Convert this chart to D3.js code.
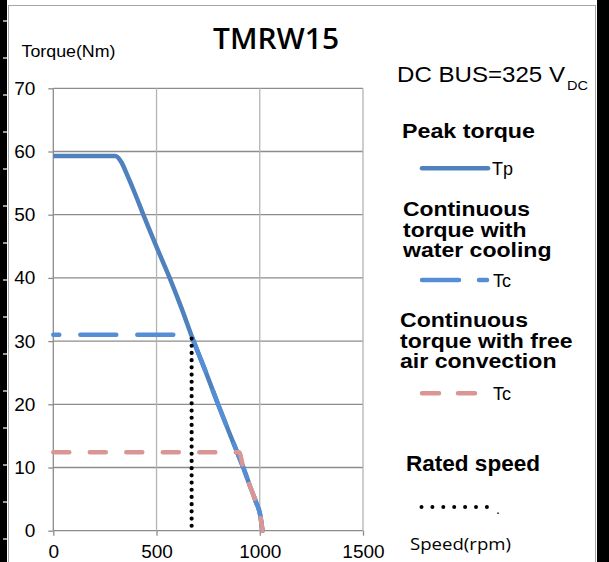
<!DOCTYPE html>
<html>
<head>
<meta charset="utf-8">
<script src="https://cdn.jsdelivr.net/npm/d3@7"></script>
<style>
  body { margin: 0; background: #fff; }
  svg { display: block; }
  .axis path { display: none; }
  .axis line { stroke: #8c8c8c; stroke-width: 1.3; }
  .axis text { font-family: "Liberation Sans", Arial, sans-serif; font-size: 19px; fill: #000; }
</style>
</head>
<body>
<svg id="chart"></svg>
<script>
// torque / speed curves
const peakSpeed  = [0, 300, 330, 355, 400, 436, 500, 565, 620, 677, 740, 798, 850, 887, 920, 951, 982, 1002, 1013];
const peakTorque = [59.3, 59.3, 58.3, 56.5, 53, 50, 44.9, 39.9, 35.3, 30.2, 25, 20, 15.7, 12.7, 10, 7.2, 4.5, 2.5, 0];

const waterSpeed  = [0, 667, 677, 740, 798, 850, 887, 920, 951, 982, 1002, 1013];
const waterTorque = [31, 31, 30.2, 25, 20, 15.7, 12.7, 10, 7.2, 4.5, 2.5, 0];

const airSpeed  = [0, 900, 920, 951, 982, 1002, 1013];
const airTorque = [12.4, 12.4, 10, 7.2, 4.5, 2.5, 0];

const ratedSpeed = 670;
const ratedTorque = [30.4, 0];

const xTicks = [0, 500, 1000, 1500];
const yTicks = [0, 10, 20, 30, 40, 50, 60, 70];

const W = 609, H = 562;
const svg = d3.select("#chart").attr("width", W).attr("height", H);

const x = d3.scaleLinear().domain([0, 1500]).range([53.3, 363]);
const y = d3.scaleLinear().domain([0, 70]).range([530.7, 88.3]);

// frame and black side bands
svg.append("rect").attr("x", 8.5).attr("y", 5.5).attr("width", 587).attr("height", 600)
    .attr("fill", "#fff").attr("stroke", "#a6a6a6").attr("stroke-width", 1);
svg.append("rect").attr("x", 0).attr("y", 0).attr("width", 7).attr("height", H).attr("fill", "#000");
svg.append("rect").attr("x", 597).attr("y", 0).attr("width", 12).attr("height", H).attr("fill", "#000");
svg.selectAll(".notch").data(d3.range(21, H, 37)).enter().append("line")
    .attr("class", "notch")
    .attr("x1", 3).attr("x2", 7).attr("y1", d => d).attr("y2", d => d)
    .attr("stroke", "#fff").attr("stroke-width", 1.2);

// grid
svg.selectAll(".hgrid").data(yTicks).enter().append("line")
    .attr("class", "hgrid")
    .attr("x1", x(0)).attr("x2", x(1500))
    .attr("y1", d => y(d)).attr("y2", d => y(d))
    .attr("stroke", "#8c8c8c").attr("stroke-width", 1.3);
svg.selectAll(".vgrid").data(xTicks).enter().append("line")
    .attr("class", "vgrid")
    .attr("x1", d => x(d)).attr("x2", d => x(d))
    .attr("y1", y(70)).attr("y2", y(0))
    .attr("stroke", d => d === 0 ? "#8c8c8c" : "#b4b4b4").attr("stroke-width", 1.3);

// axes
svg.append("g")
    .attr("class", "axis")
    .attr("transform", `translate(${x(0)},0)`)
    .call(d3.axisLeft(y).tickValues(yTicks).tickSize(5).tickPadding(13).tickFormat(d3.format("d")));
svg.append("g")
    .attr("class", "axis")
    .attr("transform", `translate(0,${y(0)})`)
    .call(d3.axisBottom(x).tickValues(xTicks).tickSize(5).tickPadding(9).tickFormat(d3.format("d")));

const line = d3.line().x(d => x(d[0])).y(d => y(d[1])).curve(d3.curveMonotoneX);

svg.append("path")
    .datum(d3.zip(peakSpeed, peakTorque))
    .attr("d", line)
    .attr("fill", "none").attr("stroke", "#4f81bd").attr("stroke-width", 4.5)
    .attr("stroke-linejoin", "round");

svg.append("path")
    .datum(d3.zip(waterSpeed, waterTorque))
    .attr("d", line)
    .attr("fill", "none").attr("stroke", "#558ed5").attr("stroke-width", 4.5)
    .attr("stroke-linecap", "round")
    .attr("stroke-dasharray", "36,21").attr("stroke-dashoffset", 30);

svg.append("path")
    .datum(d3.zip(airSpeed, airTorque))
    .attr("d", line)
    .attr("fill", "none").attr("stroke", "#d99694").attr("stroke-width", 4.5)
    .attr("stroke-linecap", "round")
    .attr("stroke-dasharray", "16,20.5");

svg.append("line")
    .attr("x1", x(ratedSpeed)).attr("x2", x(ratedSpeed))
    .attr("y1", y(ratedTorque[0])).attr("y2", y(ratedTorque[1]))
    .attr("stroke", "#000").attr("stroke-width", 4.2)
    .attr("stroke-linecap", "round").attr("stroke-dasharray", "0,7.2");

// texts
function label(tx, ty, str, opts) {
    const t = svg.append("text")
        .attr("x", tx).attr("y", ty)
        .attr("font-family", opts.family || '"Liberation Sans", Arial, sans-serif')
        .attr("font-size", opts.size)
        .attr("font-weight", opts.weight || "normal")
        .attr("fill", "#000")
        .text(str);
    if (opts.len) t.attr("textLength", opts.len).attr("lengthAdjust", "spacingAndGlyphs");
    return t;
}

label(213, 49.3, "TMRW15", { family: '"Open Sans", sans-serif', size: 29.5, weight: 600, len: 126 });
label(21.5, 57.3, "Torque(Nm)", { size: 17, len: 94 });
label(410, 550, "Speed(rpm)", { family: '"Open Sans", sans-serif', size: 17, len: 101 });

label(397, 82, "DC BUS=325 V", { size: 22, len: 168 });
label(567, 90, "DC", { size: 13, len: 21 });

label(402, 138.3, "Peak torque", { size: 21, weight: "bold", len: 133 });
label(403, 216, "Continuous", { size: 20, weight: "bold", len: 127 });
label(403, 236.7, "torque with", { size: 20, weight: "bold", len: 123.5 });
label(403, 256.7, "water cooling", { size: 20, weight: "bold", len: 148.5 });
label(400, 326.7, "Continuous", { size: 20, weight: "bold", len: 128 });
label(400, 348.3, "torque with free", { size: 20, weight: "bold", len: 172.5 });
label(400, 368.3, "air convection", { size: 20, weight: "bold", len: 156.5 });
label(406, 470.5, "Rated speed", { size: 22, weight: "bold", len: 134 });

// legend samples
svg.append("line").attr("x1", 422).attr("x2", 488).attr("y1", 168.3).attr("y2", 168.3)
    .attr("stroke", "#4f81bd").attr("stroke-width", 4.5).attr("stroke-linecap", "round");
label(492, 175, "Tp", { size: 18 });

svg.append("line").attr("x1", 422).attr("x2", 487).attr("y1", 280).attr("y2", 280)
    .attr("stroke", "#558ed5").attr("stroke-width", 4.5).attr("stroke-linecap", "round")
    .attr("stroke-dasharray", "37,20");
label(493, 286.7, "Tc", { size: 18 });

svg.append("line").attr("x1", 422).attr("x2", 475).attr("y1", 393.3).attr("y2", 393.3)
    .attr("stroke", "#d99694").attr("stroke-width", 4.5).attr("stroke-linecap", "round")
    .attr("stroke-dasharray", "17,19");
label(493, 399.5, "Tc", { size: 18 });

svg.append("line").attr("x1", 421.5).attr("x2", 488).attr("y1", 507).attr("y2", 507)
    .attr("stroke", "#000").attr("stroke-width", 4).attr("stroke-linecap", "round")
    .attr("stroke-dasharray", "0,10.9");
label(496, 514, ".", { size: 14 });
</script>
</body>
</html>
